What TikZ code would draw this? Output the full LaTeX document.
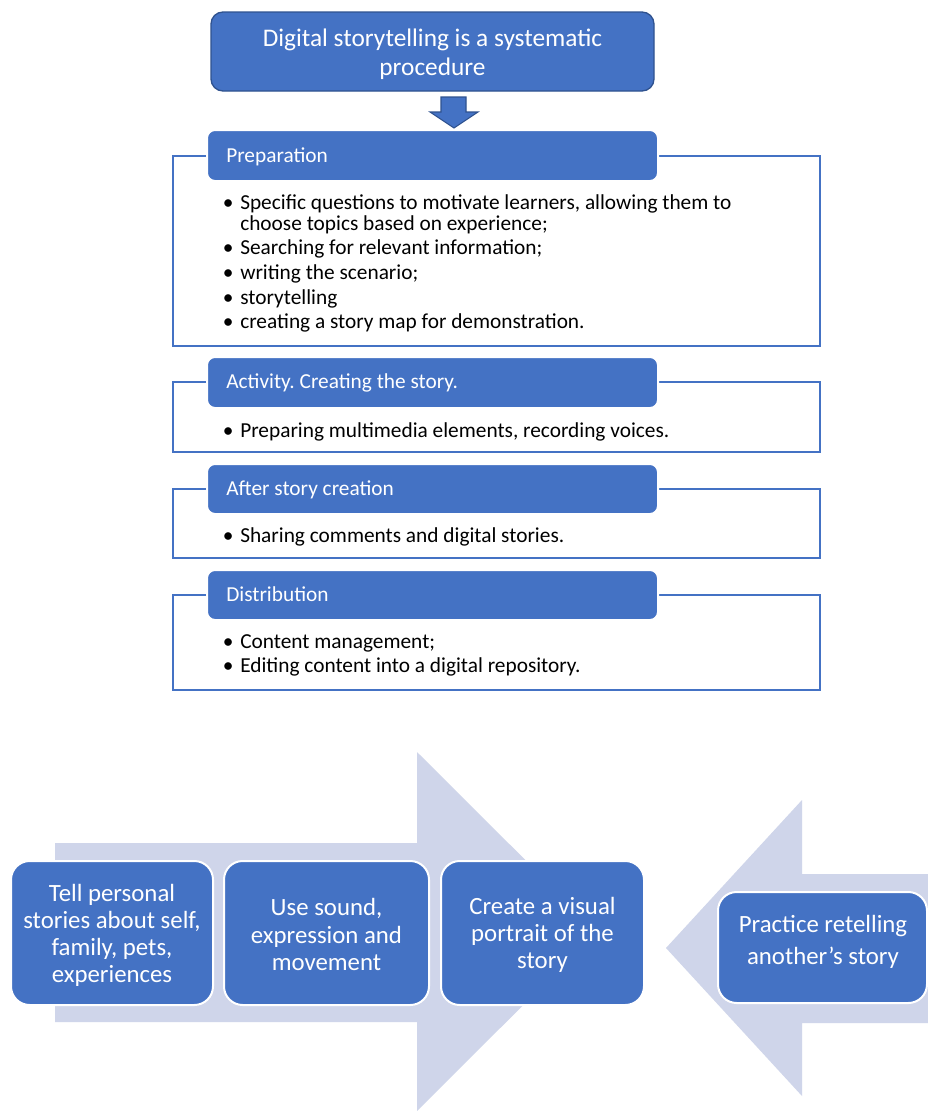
\documentclass[tikz,border=0pt]{standalone}
\usepackage{fontspec}
\setmainfont{Carlito}
\frenchspacing
\definecolor{blu}{HTML}{4472C4}
\definecolor{dblu}{HTML}{2F528F}
\definecolor{lav}{HTML}{CFD5EA}
\begin{document}
\frenchspacing
\begin{tikzpicture}[x=0.75pt,y=-0.75pt,
  outl/.style={draw=blu, line width=1.1pt},
  hdr/.style={fill=blu, draw=white, line width=1.5pt, rounded corners=6pt},
  htxt/.style={text=white, font=\fontsize{16}{18}\selectfont, anchor=mid west, inner sep=0pt},
  btxt/.style={text=black, font=\fontsize{16}{18}\selectfont, anchor=mid west, inner sep=0pt},
  bigbox/.style={fill=blu, draw=white, line width=1.5pt, rounded corners=14pt},
  bigtxt/.style={text=white, align=center, inner sep=0pt, font=\fontsize{18.6}{20.3}\selectfont},
  arrowshape/.style={fill=lav, draw=none}]
\useasboundingbox (0,0) rectangle (928,1111);
\fill[white] (0,0) rectangle (928,1111);

% title
\draw[fill=blu, draw=dblu, line width=1pt, rounded corners=9pt] (211,12) rectangle (654,91);
\node[text=white, align=center, inner sep=0pt, font=\fontsize{19}{21.75}\selectfont] (title) at (432.5,54) {Digital storytelling is a systematic\\procedure};

% down arrow
\coordinate (dtop) at (454,97);
\draw[fill=blu, draw=dblu, line width=0.8pt] (441,97) -- (466,97) -- (466,112) -- (478,112) -- (454,128) -- (430,112) -- (441,112) -- cycle;

% Preparation
\draw[outl] (173,156) rectangle (820,346);
\draw[hdr] (207,130) rectangle (658,181);
\node[htxt] (h1) at (226,159) {Preparation};
\node[btxt] (p1) at (240,206) {\llap{\textbullet\hspace{5pt}}Specific questions to motivate learners, allowing them to};
\node[btxt] (p1b) at (240,227) {choose topics based on experience;};
\node[btxt] (p2) at (240,251) {\llap{\textbullet\hspace{5pt}}Searching for relevant information;};
\node[btxt] (p3) at (240,276) {\llap{\textbullet\hspace{5pt}}writing the scenario;};
\node[btxt] (p4) at (240,301) {\llap{\textbullet\hspace{5pt}}storytelling};
\node[btxt] (p5) at (240,325) {\llap{\textbullet\hspace{5pt}}creating a story map for demonstration.};

% Activity
\draw[outl] (173,382) rectangle (820,452);
\draw[hdr] (207,357) rectangle (658,408);
\node[htxt] (h2) at (226,385.5) {Activity. Creating the story.};
\node[btxt] (a1) at (240,434) {\llap{\textbullet\hspace{5pt}}Preparing multimedia elements, recording voices.};

% After
\draw[outl] (173,489) rectangle (820,558);
\draw[hdr] (207,464) rectangle (658,514);
\node[htxt] (h3) at (226,492) {After story creation};
\node[btxt] (s1) at (240,539) {\llap{\textbullet\hspace{5pt}}Sharing comments and digital stories.};

% Distribution
\draw[outl] (173,595) rectangle (820,690);
\draw[hdr] (207,570) rectangle (658,620);
\node[htxt] (h4) at (226,598) {Distribution};
\node[btxt] (d1) at (240,645) {\llap{\textbullet\hspace{5pt}}Content management;};
\node[btxt] (d2) at (240,669) {\llap{\textbullet\hspace{5pt}}Editing content into a digital repository.};

% big arrows
\path[arrowshape] (55,843) -- (417,843) -- (417,752) -- (597,931.5) -- (417,1111) -- (417,1022) -- (55,1022) -- cycle;
\path[arrowshape] (928,874) -- (802,874) -- (802,800) -- (666,948) -- (802,1096) -- (802,1023) -- (928,1023) -- cycle;

% boxes
\draw[bigbox] (11,861) rectangle (213,1005);
\node[bigtxt] (b1) at (112,935) {Tell personal\\stories about self,\\family, pets,\\experiences};
\draw[bigbox] (224,861) rectangle (429,1005);
\node[bigtxt] (b2) at (326.5,934.5) {Use sound,\\expression and\\movement};
\draw[bigbox] (441,861) rectangle (644,1005);
\node[bigtxt] (b3) at (542.5,934.5) {Create a visual\\portrait of the\\story};
\draw[bigbox] (718,892) rectangle (927,1003);
\node[bigtxt, font=\fontsize{18.6}{24}\selectfont] (b4) at (823,942) {Practice retelling\\another’s story};
\end{tikzpicture}
\end{document}
